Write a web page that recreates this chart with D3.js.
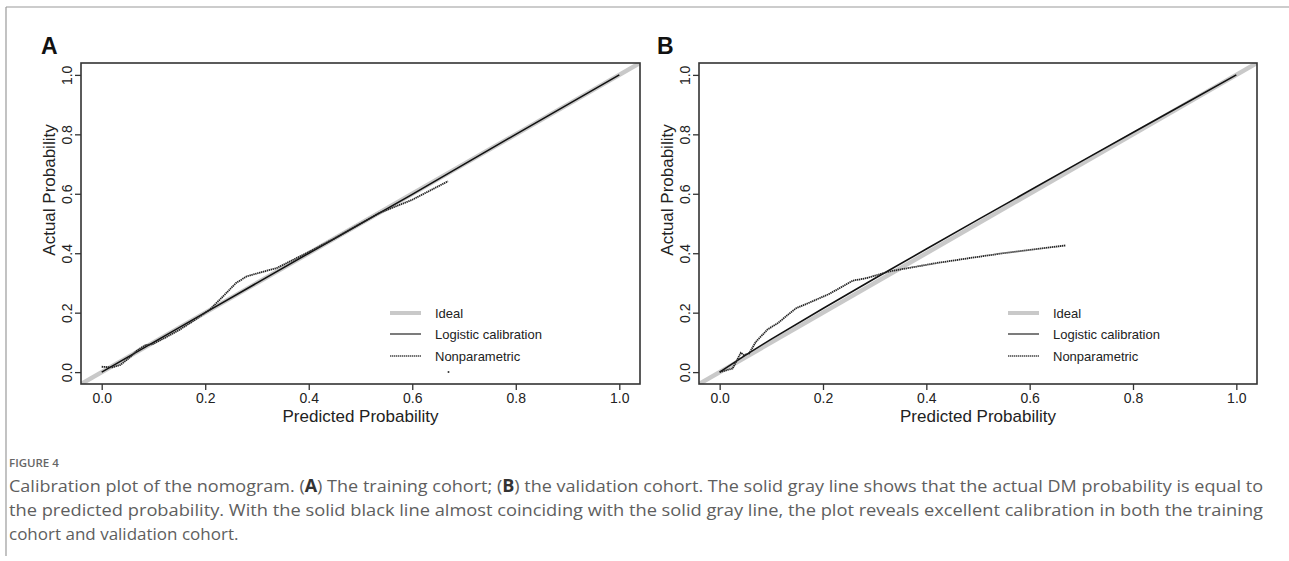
<!DOCTYPE html>
<html>
<head>
<meta charset="utf-8">
<script src="https://cdn.jsdelivr.net/npm/d3@7"></script>
<style>
  html, body { margin: 0; padding: 0; background: #fff; }
  svg { display: block; }
</style>
</head>
<body>
<svg id="chart" width="1289" height="561"></svg>
<script>
// ---------- data ----------
const tickValues = [0, 0.2, 0.4, 0.6, 0.8, 1.0];
const axisDomain = [-0.04, 1.04];
const idealX = [-0.04, 1.04];
const idealY = [-0.04, 1.04];

// Panel A (training cohort)
const logisticA_x = [0, 0.2, 0.4, 0.6, 0.8, 1.0];
const logisticA_y = [0, 0.2, 0.4, 0.598, 0.8, 1.0];
const nonparA_x = [0, 0.02, 0.036, 0.052, 0.069, 0.085, 0.098, 0.124, 0.15, 0.175, 0.208, 0.234, 0.259, 0.28, 0.306, 0.338, 0.37, 0.409, 0.45, 0.5, 0.536, 0.6, 0.669];
const nonparA_y = [0.018, 0.016, 0.024, 0.046, 0.074, 0.091, 0.094, 0.117, 0.142, 0.17, 0.209, 0.254, 0.299, 0.322, 0.335, 0.35, 0.378, 0.412, 0.45, 0.5, 0.535, 0.58, 0.642];
const rugA_x = [0.67];
const rugA_y = [0.0];

// Panel B (validation cohort)
const logisticB_x = [0, 0.05, 0.1, 0.2, 0.3, 0.4, 0.5, 0.6, 0.7, 0.8, 0.9, 1.0];
const logisticB_y = [0, 0.057, 0.111, 0.214, 0.315, 0.414, 0.513, 0.611, 0.709, 0.806, 0.903, 1.0];
const nonparB_x = [0, 0.025, 0.041, 0.047, 0.057, 0.07, 0.093, 0.112, 0.128, 0.148, 0.174, 0.212, 0.258, 0.284, 0.329, 0.42, 0.485, 0.549, 0.669];
const nonparB_y = [0, 0.012, 0.065, 0.057, 0.063, 0.102, 0.144, 0.164, 0.187, 0.215, 0.234, 0.263, 0.308, 0.316, 0.339, 0.367, 0.384, 0.40, 0.426];

const legendLabels = ["Ideal", "Logistic calibration", "Nonparametric"];
const panelLetters = ["A", "B"];
const xTitle = "Predicted Probability";
const yTitle = "Actual Probability";
const figureLabel = "FIGURE 4";
const captionLines = [
  [["Calibration plot of the nomogram. (", 0], ["A", 1], [") The training cohort; (", 0], ["B", 1], [") the validation cohort. The solid gray line shows that the actual DM probability is equal to", 0]],
  [["the predicted probability. With the solid black line almost coinciding with the solid gray line, the plot reveals excellent calibration in both the training", 0]],
  [["cohort and validation cohort.", 0]]
];

// ---------- drawing ----------
const svg = d3.select("#chart");
const zip = (xs, ys) => xs.map((x, i) => [x, ys[i]]);

// figure frame (top + left rules)
svg.append("line").attr("x1", 6).attr("x2", 1289).attr("y1", 7).attr("y2", 7)
  .attr("stroke", "#9a9a9a").attr("stroke-width", 1.2);
svg.append("line").attr("x1", 6).attr("x2", 6).attr("y1", 7).attr("y2", 556)
  .attr("stroke", "#9a9a9a").attr("stroke-width", 1.2);

const panels = [
  { letter: panelLetters[0], box: { l: 81, r: 640, t: 63, b: 384 }, letterX: 41,
    logistic: zip(logisticA_x, logisticA_y), nonpar: zip(nonparA_x, nonparA_y), rug: zip(rugA_x, rugA_y),
    legX: 390, yTitleY: 190 },
  { letter: panelLetters[1], box: { l: 699, r: 1257, t: 63, b: 384 }, letterX: 657,
    logistic: zip(logisticB_x, logisticB_y), nonpar: zip(nonparB_x, nonparB_y), rug: [],
    legX: 1008, yTitleY: 190 }
];

const font = "'Liberation Sans', Arial, Helvetica, sans-serif";

panels.forEach((p, i) => {
  const g = svg.append("g");
  const x = d3.scaleLinear().domain(axisDomain).range([p.box.l, p.box.r]);
  const y = d3.scaleLinear().domain(axisDomain).range([p.box.b, p.box.t]);

  const clipId = "clip" + i;
  svg.append("clipPath").attr("id", clipId).append("rect")
    .attr("x", p.box.l).attr("y", p.box.t)
    .attr("width", p.box.r - p.box.l).attr("height", p.box.b - p.box.t);

  const line = d3.line().x(d => x(d[0])).y(d => y(d[1]));
  const plot = g.append("g").attr("clip-path", `url(#${clipId})`);

  // ideal
  plot.append("path").datum(zip(idealX, idealY)).attr("d", line)
    .attr("fill", "none").attr("stroke", "#c9c9c9").attr("stroke-width", 4.5);
  // logistic calibration
  plot.append("path").datum(p.logistic).attr("d", line)
    .attr("fill", "none").attr("stroke", "#111").attr("stroke-width", 1.6);
  // nonparametric
  plot.append("path").datum(p.nonpar).attr("d", line)
    .attr("fill", "none").attr("stroke", "#262626").attr("stroke-width", 1.8)
    .attr("stroke-dasharray", "1.4,0.6");
  // rug dot
  plot.selectAll("circle.rug").data(p.rug).join("circle").attr("class", "rug")
    .attr("cx", d => x(d[0])).attr("cy", d => y(d[1])).attr("r", 1).attr("fill", "#333");

  // box
  g.append("rect").attr("x", p.box.l).attr("y", p.box.t)
    .attr("width", p.box.r - p.box.l).attr("height", p.box.b - p.box.t)
    .attr("fill", "none").attr("stroke", "#333").attr("stroke-width", 1.6);

  // x axis
  const xa = g.append("g").attr("transform", `translate(0,${p.box.b})`)
    .call(d3.axisBottom(x).tickValues(tickValues).tickFormat(d3.format(".1f")).tickSize(6).tickSizeOuter(0));
  xa.select(".domain").remove();
  xa.selectAll(".tick line").attr("stroke", "#333").attr("stroke-width", 1.3);
  xa.selectAll(".tick text").attr("y", 19).attr("dy", 0)
    .attr("font-family", font).attr("font-size", 14).attr("fill", "#222");

  // y axis
  const ya = g.append("g").attr("transform", `translate(${p.box.l},0)`)
    .call(d3.axisLeft(y).tickValues(tickValues).tickFormat(d3.format(".1f")).tickSize(6).tickSizeOuter(0));
  ya.select(".domain").remove();
  ya.selectAll(".tick line").attr("stroke", "#333").attr("stroke-width", 1.3);
  ya.selectAll(".tick text").attr("transform", "rotate(-90)")
    .attr("x", 0).attr("y", -9).attr("dy", 0).attr("text-anchor", "middle")
    .attr("font-family", font).attr("font-size", 14).attr("fill", "#222");

  // axis titles
  g.append("text").attr("x", (x(0) + x(1)) / 2).attr("y", 422)
    .attr("text-anchor", "middle").attr("font-family", font).attr("font-size", 17).attr("fill", "#222")
    .text(xTitle);
  g.append("text").attr("transform", `translate(${p.box.l - 26},${p.yTitleY}) rotate(-90)`)
    .attr("text-anchor", "middle").attr("font-family", font).attr("font-size", 17).attr("fill", "#222")
    .text(yTitle);

  // panel letter
  g.append("text").attr("x", p.letterX).attr("y", 54)
    .attr("font-family", font).attr("font-weight", "bold").attr("font-size", 23).attr("fill", "#111")
    .text(p.letter);

  // legend
  const legY = [313, 334, 356];
  const leg = g.append("g");
  leg.append("line").attr("x1", p.legX).attr("x2", p.legX + 31).attr("y1", legY[0]).attr("y2", legY[0])
    .attr("stroke", "#c9c9c9").attr("stroke-width", 4);
  leg.append("line").attr("x1", p.legX).attr("x2", p.legX + 31).attr("y1", legY[1]).attr("y2", legY[1])
    .attr("stroke", "#444").attr("stroke-width", 1.4);
  leg.append("line").attr("x1", p.legX).attr("x2", p.legX + 31).attr("y1", legY[2]).attr("y2", legY[2])
    .attr("stroke", "#444").attr("stroke-width", 1.7).attr("stroke-dasharray", "1.4,0.6");
  legendLabels.forEach((t, k) => {
    leg.append("text").attr("x", p.legX + 45).attr("y", legY[k] + 5)
      .attr("font-family", font).attr("font-size", 13).attr("fill", "#222").text(t);
  });
});

// ---------- caption ----------
const capFont = "'Open Sans', 'Noto Sans', sans-serif";
svg.append("text").attr("x", 9).attr("y", 467)
  .attr("font-family", capFont).attr("font-weight", 600).attr("font-size", 11.5).attr("fill", "#666")
  .text(figureLabel);

const baselines = [492, 516, 540];
// size font so the last (short) line matches its width in the figure
const probe = svg.append("text").attr("font-family", capFont).attr("font-size", 15)
  .text(captionLines[2][0][0]);
const probeLen = probe.node().getComputedTextLength();
probe.remove();
const capSize = Math.max(13, Math.min(17, 15 * 243 / probeLen));

captionLines.forEach((parts, li) => {
  const t = svg.append("text").attr("x", 9).attr("y", baselines[li])
    .attr("font-family", capFont).attr("font-size", capSize).attr("fill", "#5e5e5e");
  parts.forEach(([s, b]) => {
    t.append("tspan").attr("font-weight", b ? 700 : 400).attr("fill", b ? "#333" : "#5e5e5e").text(s);
  });
  if (li < 2) {
    t.attr("textLength", 1254).attr("lengthAdjust", "spacingAndGlyphs");
  }
});
</script>
</body>
</html>
